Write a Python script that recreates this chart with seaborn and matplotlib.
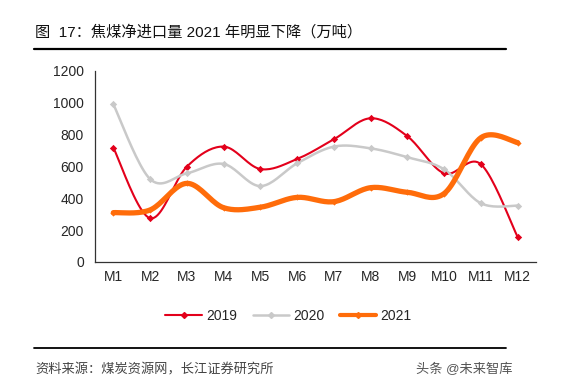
import numpy as np
import pandas as pd
import seaborn as sns
import matplotlib.pyplot as plt
from matplotlib.lines import Line2D

months = ['M1', 'M2', 'M3', 'M4', 'M5', 'M6', 'M7', 'M8', 'M9', 'M10', 'M11', 'M12']
v2019 = [718, 275, 599, 725, 584, 647, 771, 903, 790, 557, 614, 157]
v2020 = [991, 521, 557, 616, 477, 620, 725, 714, 658, 582, 369, 354]
v2021 = [310, 327, 494, 341, 344, 406, 379, 467, 438, 430, 781, 750]
years = ['2019', '2020', '2021']
colors = ['#E3001B', '#C9C9C9', '#FF6C0A']
widths = [1.5, 1.8, 3.8]


def smooth(y, n=20):
    # catmull-rom style curve, similar to excel's smoothed line
    y = np.asarray(y, float)
    x = np.arange(1, len(y) + 1, dtype=float)
    pts = np.column_stack([x, y])
    ext = np.vstack([pts[0], pts, pts[-1]])
    out = []
    for i in range(len(pts) - 1):
        p0, p1, p2, p3 = ext[i], ext[i + 1], ext[i + 2], ext[i + 3]
        c1 = p1 + (p2 - p0) / 6
        c2 = p2 - (p3 - p1) / 6
        t = np.linspace(0, 1, n, endpoint=False)[:, None]
        b = ((1 - t) ** 3) * p1 + 3 * ((1 - t) ** 2) * t * c1 + 3 * (1 - t) * t ** 2 * c2 + t ** 3 * p2
        out.append(b)
    out.append(pts[-1:])
    out = np.vstack(out)
    return out[:, 0], out[:, 1]


sns.set_style('white')
plt.rcParams['font.family'] = ['Liberation Sans', 'Noto Sans CJK SC']

fig = plt.figure(figsize=(5.77, 3.85), dpi=100)
ax = fig.add_axes([0.1646, 0.3195, 0.7644, 0.4961])

for yr, vals, c, w in zip(years, [v2019, v2020, v2021], colors, widths):
    sx, sy = smooth(vals)
    curve = pd.DataFrame({'x': sx, 'y': sy})
    sns.lineplot(data=curve, x='x', y='y', color=c, linewidth=w, ax=ax, sort=False)
    pts = pd.DataFrame({'x': np.arange(1, 13), 'y': vals})
    sns.scatterplot(data=pts, x='x', y='y', color=c, marker='D', s=14 if yr != '2021' else 10,
                    linewidth=0, ax=ax, zorder=3)

ax.set_xlim(0.5, 12.5)
ax.set_ylim(0, 1200)
ax.set_yticks(range(0, 1201, 200))
ax.set_xticks(np.arange(1, 13))
ax.set_xticklabels(months)
ax.set_xticks(np.arange(0.5, 12.6, 1), minor=True)
ax.tick_params(axis='x', which='major', length=0, pad=6, labelsize=10)
ax.tick_params(axis='x', which='minor', length=4, width=0.8, direction='out', color='#333333')
ax.tick_params(axis='y', length=0, pad=8, labelsize=10)
ax.set_xlabel('')
ax.set_ylabel('')
for s in ['top', 'right']:
    ax.spines[s].set_visible(False)
for s in ['left', 'bottom']:
    ax.spines[s].set_color('#333333')
    ax.spines[s].set_linewidth(0.9)

handles = [Line2D([0], [0], color=c, lw=min(w, 3), marker='D', markersize=3) for c, w in zip(colors, widths)]
fig.legend(handles, years, loc='center', bbox_to_anchor=(0.5, 1 - 316 / 385), ncol=3,
           frameon=False, fontsize=10, handlelength=2.6, columnspacing=1.15, handletextpad=0.3)

fig.text(35 / 577, 1 - 32 / 385, '图  17：焦煤净进口量 2021 年明显下降（万吨）', fontsize=11,
         va='center', ha='left', color='#111111')
fig.add_artist(Line2D([34 / 577, 506 / 577], [1 - 49 / 385] * 2, color='black', lw=1.6))
fig.add_artist(Line2D([34 / 577, 506 / 577], [1 - 348 / 385] * 2, color='black', lw=1.3))
fig.text(35 / 577, 1 - 370 / 385, '资料来源：煤炭资源网，长江证券研究所', fontsize=9.5,
         va='center', ha='left', color='#444444')
fig.text(512 / 577, 1 - 369 / 385, '头条 @未来智库', fontsize=9.5, va='center', ha='right',
         color='#555555')

fig.savefig('out.png', dpi=100)
